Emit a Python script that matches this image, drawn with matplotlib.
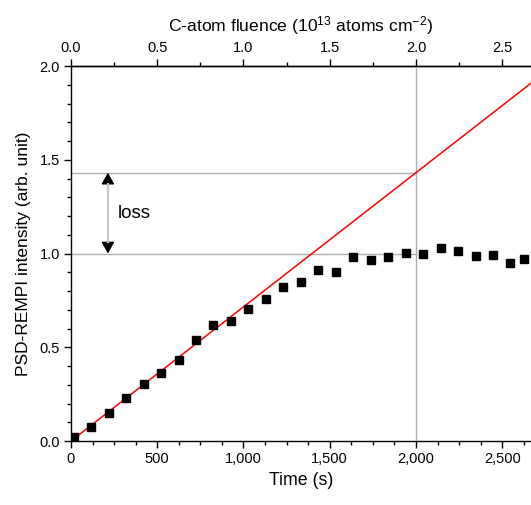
import numpy as np
import matplotlib
matplotlib.use("Agg")
import matplotlib.pyplot as plt
from matplotlib.ticker import FuncFormatter, MultipleLocator, FixedLocator

plt.rcParams['font.family'] = ['Liberation Sans', 'DejaVu Sans']
plt.rcParams['mathtext.fontset'] = 'custom'
plt.rcParams['mathtext.rm'] = 'Liberation Sans'
plt.rcParams['mathtext.it'] = 'Liberation Sans:italic'

# measured PSD-REMPI intensity vs time
time_s = [15, 117, 219, 320, 421, 522, 624, 725, 826, 928, 1029, 1130, 1232,
          1333, 1434, 1535, 1637, 1738, 1840, 1941, 2042, 2143, 2245, 2346,
          2447, 2548, 2625]
intensity = [0.023, 0.075, 0.150, 0.230, 0.305, 0.364, 0.433, 0.537, 0.619,
             0.642, 0.706, 0.759, 0.822, 0.850, 0.913, 0.904, 0.980, 0.964,
             0.980, 1.004, 0.996, 1.027, 1.011, 0.986, 0.991, 0.950, 0.970]

time_ticks = [0, 500, 1000, 1500, 2000, 2500]
fluence_ticks = [0.0, 0.5, 1.0, 1.5, 2.0, 2.5]

# linear fit of the initial rise
fit_slope = 1.431 / 2000
x_max = 2667
ref_time = 2000
level_meas = 1.0
level_fit = 1.431
arrow_time = 214

fig = plt.figure(figsize=(5.31, 5.05), dpi=100)
ax = fig.add_axes([0.1337, 0.1267, 0.8663, 0.7426])

grey = '#b0b0b0'
ax.plot([ref_time, ref_time], [0, 2.0], color=grey, lw=1.0, zorder=1)
ax.plot([0, ref_time], [level_meas, level_meas], color=grey, lw=1.0, zorder=1)
ax.plot([0, ref_time], [level_fit, level_fit], color=grey, lw=1.0, zorder=1)

fit_x = np.array([0, x_max])
ax.plot(fit_x, fit_slope * fit_x, color='#ff0000', lw=1.1, zorder=2)
ax.plot(time_s, intensity, 's', color='black', ms=6, zorder=3)

# loss arrow: grey shaft, black heads
ax.annotate('', xy=(arrow_time, level_meas), xytext=(arrow_time, level_fit),
            arrowprops=dict(arrowstyle='<|-|>,head_length=0.5,head_width=0.28',
                            color='black', lw=1.0, mutation_scale=14,
                            shrinkA=0, shrinkB=0), zorder=2)
ax.plot([arrow_time, arrow_time], [level_meas + 0.06, level_fit - 0.06],
        color='#c8c8c8', lw=1.6, zorder=3)
ax.text(270, 1.215, 'loss', fontsize=13.5, va='center', ha='left')

ax.set_xlim(0, x_max)
ax.set_ylim(0, 2.0)
ax.xaxis.set_major_locator(FixedLocator(time_ticks))
ax.xaxis.set_minor_locator(MultipleLocator(125))
ax.yaxis.set_major_locator(MultipleLocator(0.5))
ax.yaxis.set_minor_locator(MultipleLocator(0.1))
ax.xaxis.set_major_formatter(FuncFormatter(lambda v, p: f'{int(v):,}'))
ax.yaxis.set_major_formatter(FuncFormatter(lambda v, p: f'{v:.1f}'))

ax.spines['right'].set_visible(False)
for s in ['left', 'bottom', 'top']:
    ax.spines[s].set_linewidth(1.0)
ax.tick_params(which='major', direction='out', length=5, width=1.0,
               labelsize=10.5, pad=3)
ax.tick_params(which='minor', direction='out', length=3, width=1.0)
ax.tick_params(axis='y', which='both', right=False)

ax.set_xlabel('Time (s)', fontsize=12.8, labelpad=4)
ax.set_ylabel('PSD-REMPI intensity (arb. unit)', fontsize=12.5, labelpad=6)

top = ax.secondary_xaxis('top', functions=(lambda t: t / 1000, lambda f: f * 1000))
top.xaxis.set_major_locator(FixedLocator(fluence_ticks))
top.xaxis.set_minor_locator(FixedLocator([0.25, 0.75, 1.25, 1.75, 2.25]))
top.xaxis.set_major_formatter(FuncFormatter(lambda v, p: f'{v:.1f}'))
top.tick_params(which='major', direction='out', length=5, width=1.0,
                labelsize=10.5, pad=3)
top.tick_params(which='minor', direction='out', length=3, width=1.0)
top.spines['top'].set_linewidth(1.0)
top.set_xlabel('C-atom fluence (10$^{13}$ atoms cm$^{-2}$)', fontsize=12.6,
               labelpad=7)

fig.savefig('out.png', dpi=100)
